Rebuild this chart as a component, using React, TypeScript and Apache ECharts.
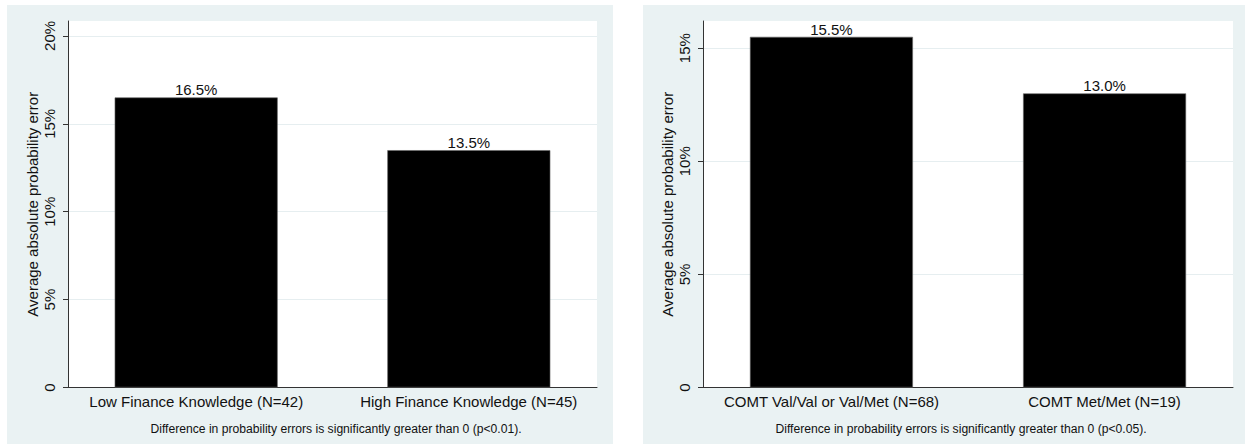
import React, { useEffect, useRef } from "react";
import * as echarts from "echarts";

// Panel A: finance knowledge groups
const leftCategories = ["Low Finance Knowledge (N=42)", "High Finance Knowledge (N=45)"];
const leftValues = [16.5, 13.5];
const leftTicks = [0, 5, 10, 15, 20];
const leftMax = 20.85;
const leftNote = "Difference in probability errors is significantly greater than 0 (p<0.01).";

// Panel B: COMT genotype groups
const rightCategories = ["COMT Val/Val or Val/Met (N=68)", "COMT Met/Met (N=19)"];
const rightValues = [15.5, 13.0];
const rightTicks = [0, 5, 10, 15];
const rightMax = 16.2;
const rightNote = "Difference in probability errors is significantly greater than 0 (p<0.05).";

const yTitle = "Average absolute probability error";

const BG = "#EAF2F3";
const GRIDLINE = "#E6EEF0";
const AXIS = "#333";
const FONT = "'Liberation Sans', Arial, sans-serif";

const BAR_W = 163;
const BAR_GAP = "-95%";

function panel(idx: number, cats: string[], vals: number[], ticks: number[], max: number) {
  const xAxis = {
    type: "category",
    gridIndex: idx,
    data: cats,
    axisLine: { show: true, lineStyle: { color: AXIS, width: 1 } },
    axisTick: { show: false },
    axisLabel: {
      interval: 0,
      hideOverlap: false,
      color: "#111",
      fontFamily: FONT,
      fontSize: 15,
      margin: 6,
      formatter: (v: string) => (v === cats[0] ? `{a|${v}}` : `{b|${v}}`),
      rich: {
        a: { fontFamily: FONT, fontSize: 15, color: "#111", padding: [0, 8, 0, 0] },
        b: { fontFamily: FONT, fontSize: 15, color: "#111", padding: [0, 0, 0, 8] },
      },
    },
    splitLine: { show: false },
  };
  const yAxis = {
    type: "value",
    gridIndex: idx,
    min: 0,
    max,
    name: yTitle,
    nameLocation: "middle",
    nameGap: 28,
    nameTextStyle: { fontFamily: FONT, fontSize: 15, color: "#111" },
    axisLine: { show: true, lineStyle: { color: AXIS, width: 1 } },
    axisTick: { show: true, length: 5, customValues: ticks, lineStyle: { color: AXIS } },
    axisLabel: {
      customValues: ticks,
      rotate: 90,
      margin: 11,
      fontFamily: FONT,
      fontSize: 15,
      color: "#111",
      formatter: (v: number) => (v === 0 ? "0" : `${v}%`),
    },
    splitLine: { show: true, lineStyle: { color: GRIDLINE, width: 1 } },
  };
  const mk = (slot: number) => ({
    type: "bar",
    xAxisIndex: idx,
    yAxisIndex: idx,
    barWidth: BAR_W,
    barGap: BAR_GAP,
    data: vals.map((v, i) => (i === slot ? v : "-")),
    itemStyle: { color: "#000", borderColor: "#666", borderWidth: 0.6 },
    label: {
      show: true,
      position: "top",
      distance: 0,
      fontFamily: FONT,
      fontSize: 15,
      color: "#111",
      formatter: (p: any) => `${Number(p.value).toFixed(1)}%`,
    },
  });
  return { xAxis, yAxis, series: [mk(0), mk(1)] };
}

const note = (text: string, x: number) => ({
  type: "text",
  x,
  y: 428,
  scaleX: 0.9,
  style: { text, fontFamily: FONT, fontSize: 13.5, fill: "#111", textAlign: "center", textVerticalAlign: "middle" },
});

export default function App() {
  const ref = useRef<HTMLDivElement>(null);
  useEffect(() => {
    document.body.style.margin = "0";
    const chart = echarts.init(ref.current!, undefined, { renderer: "svg" });
    const a = panel(0, leftCategories, leftValues, leftTicks, leftMax);
    const b = panel(1, rightCategories, rightValues, rightTicks, rightMax);
    chart.setOption({
      animation: false,
      backgroundColor: "#fff",
      grid: [
        { left: 68, top: 21, width: 529, height: 366.5, show: true, backgroundColor: "#fff", borderWidth: 0 },
        { left: 703, top: 21, width: 530, height: 366.5, show: true, backgroundColor: "#fff", borderWidth: 0 },
      ],
      xAxis: [a.xAxis, b.xAxis],
      yAxis: [a.yAxis, b.yAxis],
      series: [...a.series, ...b.series],
      graphic: [
        { type: "rect", z: -10, silent: true, shape: { x: 7, y: 5, width: 606, height: 439 }, style: { fill: BG } },
        { type: "rect", z: -10, silent: true, shape: { x: 643, y: 5, width: 602, height: 439 }, style: { fill: BG } },
        note(leftNote, 336),
        note(rightNote, 961),
      ],
    });
    return () => chart.dispose();
  }, []);
  return <div ref={ref} style={{ width: 1245, height: 444 }} />;
}
